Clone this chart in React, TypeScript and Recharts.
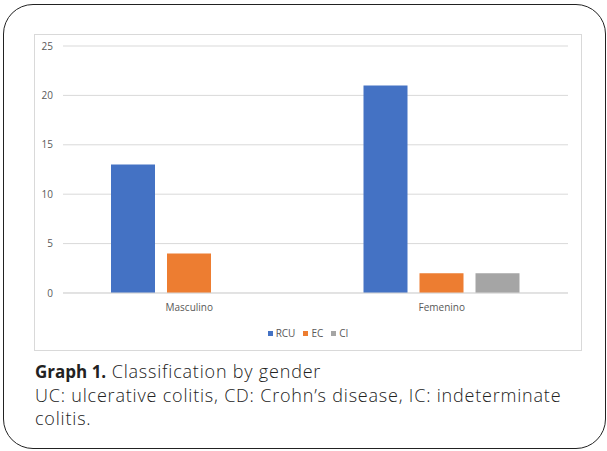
import React from 'react';
import { BarChart, Bar, XAxis, YAxis, CartesianGrid, Legend } from 'recharts';

const categories = ['Masculino', 'Femenino'];
const rcuValues = [13, 21];
const ecValues = [4, 2];
const ciValues = [0, 2];
const yTicks = [0, 5, 10, 15, 20, 25];

const seriesList = [
  { key: 'RCU', color: '#4472C4' },
  { key: 'EC', color: '#ED7D31' },
  { key: 'CI', color: '#A5A5A5' },
];

const data = categories.map((gender, i) => ({
  gender,
  RCU: rcuValues[i],
  EC: ecValues[i],
  CI: ciValues[i],
}));

const tickStyle = { fontFamily: 'Open Sans', fontSize: 10, fill: '#595959' };

const SmallLegend = () => (
  <div style={{ display: 'flex', justifyContent: 'center', alignItems: 'center', fontFamily: 'Open Sans', fontSize: 10, color: '#595959', lineHeight: '14px' }}>
    {seriesList.map((s, i) => (
      <span key={s.key} style={{ display: 'inline-flex', alignItems: 'center', marginLeft: i === 0 ? 0 : 8 }}>
        <span style={{ width: 5, height: 5, background: s.color, display: 'inline-block', marginRight: 3 }} />
        {s.key}
      </span>
    ))}
  </div>
);

export default function App() {
  return (
    <div style={{ position: 'absolute', left: 0, top: 0, width: 607, height: 451, background: '#fff', overflow: 'hidden' }}>
      <div
        style={{
          position: 'absolute',
          left: 3,
          top: 4,
          width: 603,
          height: 445,
          boxSizing: 'border-box',
          border: '1.5px solid #222',
          borderRadius: 30,
        }}
      />
      <div
        style={{
          position: 'absolute',
          left: 34,
          top: 34,
          width: 548,
          height: 317,
          boxSizing: 'border-box',
          border: '1px solid #d9d9d9',
        }}
      />
      <div style={{ position: 'absolute', left: 34, top: 34 }}>
        <BarChart
          width={548}
          height={317}
          data={data}
          margin={{ top: 12, right: 14, left: 0, bottom: 34 }}
          barGap={12}
          barCategoryGap={48}
        >
          <CartesianGrid vertical={false} stroke="#d9d9d9" />
          <XAxis
            dataKey="gender"
            height={24}
            tickLine={false}
            tickSize={0}
            tickMargin={11}
            axisLine={{ stroke: '#d9d9d9' }}
            tick={tickStyle}
          />
          <YAxis
            width={29}
            domain={[0, 25]}
            ticks={yTicks}
            axisLine={false}
            tickLine={false}
            tickSize={0}
            tickMargin={10}
            tick={tickStyle}
          />
          <Legend
            verticalAlign="middle"
            align="center"
            content={<SmallLegend />}
            wrapperStyle={{ top: 292, left: 0, width: 548 }}
          />
          {seriesList.map((s) => (
            <Bar key={s.key} dataKey={s.key} fill={s.color} isAnimationActive={false} />
          ))}
        </BarChart>
      </div>
      <div
        style={{
          position: 'absolute',
          left: 35,
          top: 360,
          fontFamily: 'Open Sans',
          fontSize: 18,
          fontWeight: 300,
          letterSpacing: 0.8,
          lineHeight: '23.5px',
          color: '#222',
          whiteSpace: 'nowrap',
        }}
      >
        <span style={{ fontWeight: 700, fontSize: 17, letterSpacing: 0 }}>Graph 1.</span> Classification by gender
        <br />
        UC: ulcerative colitis, CD: Crohn’s disease, IC: indeterminate
        <br />
        colitis.
      </div>
    </div>
  );
}
